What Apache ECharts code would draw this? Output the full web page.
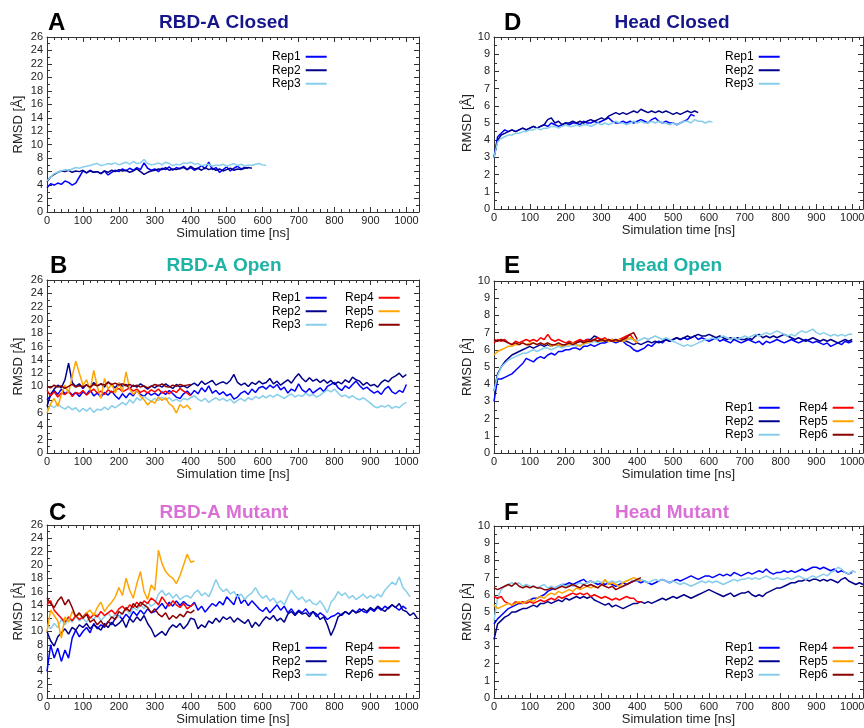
<!DOCTYPE html>
<html>
<head>
<meta charset="utf-8">
<title>RMSD</title>
<script src="https://cdn.jsdelivr.net/npm/echarts@6/dist/echarts.min.js"></script>
<style>
  html, body { margin: 0; padding: 0; background: #fff; }
  #wrap { position: relative; width: 864px; height: 728px; overflow: hidden; background: #fff; }
  .panel { position: absolute; width: 432px; height: 250px; }
</style>
</head>
<body>
<div id="wrap">
  <div class="panel" id="panel-a" style="left:0;top:0"></div>
  <div class="panel" id="panel-d" style="left:432px;top:0"></div>
  <div class="panel" id="panel-b" style="left:0;top:240px"></div>
  <div class="panel" id="panel-e" style="left:432px;top:240px"></div>
  <div class="panel" id="panel-c" style="left:0;top:480px;height:248px"></div>
  <div class="panel" id="panel-f" style="left:432px;top:480px;height:248px"></div>
</div>
<script>
/**
 * RMSD time series, six panels
 */

// sampling step of every series [ns]
const STEP_NS = 10;

const REP_NAMES = ['Rep1', 'Rep2', 'Rep3', 'Rep4', 'Rep5', 'Rep6'];
const REP_COLORS = ['#0000ff', '#00008b', '#87ceeb', '#ff0000', '#ffa500', '#8b0000'];
const FONT = 'Liberation Sans, Arial, Helvetica, sans-serif';

// A - RBD-A Closed
const rbdClosedRep1 = [3.6,4.2,4.0,4.3,4.1,4.6,4.4,4.0,4.3,5.2,6.1,5.8,6.2,5.9,6.0,5.7,6.1,5.5,5.9,6.2,6.0,6.4,6.1,6.5,6.2,6.6,6.3,7.3,6.5,6.2,6.4,6.0,6.5,6.3,6.7,6.2,6.6,6.4,6.8,6.3,6.6,6.2,6.5,6.9,6.4,7.4,6.3,6.6,5.9,6.3,6.7,6.1,6.5,6.8,6.4,6.6,6.5];
const rbdClosedRep2 = [4.5,5.2,5.6,5.9,6.1,6.0,6.2,5.9,6.1,6.0,6.2,5.8,6.1,5.9,6.0,5.7,6.1,5.9,6.2,6.0,6.3,6.1,6.2,5.9,6.1,6.4,6.0,5.6,5.9,6.1,6.2,6.4,6.3,6.6,6.2,6.4,6.3,6.5,6.6,6.3,6.8,6.4,6.5,6.2,6.6,6.3,6.5,6.2,6.4,6.1,6.3,6.5,6.2,6.4,6.3,6.5,6.6,6.5];
const rbdClosedRep3 = [4.6,5.2,5.7,5.9,6.1,6.3,6.2,6.4,6.6,6.5,6.7,6.8,6.9,7.1,7.2,6.9,7.0,7.2,7.1,7.3,7.0,7.2,7.4,7.1,7.5,7.2,7.3,7.8,7.2,7.0,7.1,7.3,7.0,7.4,7.2,6.9,7.1,7.0,7.3,7.2,7.4,7.1,7.2,6.9,7.0,7.1,6.8,7.0,6.9,7.1,6.8,7.0,7.2,6.9,7.1,6.8,7.0,6.9,7.1,7.2,7.0,6.9];

// D - Head Closed
const headClosedRep1 = [3.0,4.2,4.4,4.6,4.5,4.6,4.5,4.6,4.7,4.6,4.7,4.8,4.7,4.8,4.9,4.8,5.0,4.9,4.8,4.9,5.0,4.9,5.0,5.0,4.9,5.1,5.0,5.0,5.1,5.0,5.1,5.2,5.3,5.1,5.0,5.0,5.1,5.0,5.1,5.0,5.1,5.2,5.1,5.0,5.2,5.3,5.1,5.0,5.1,5.0,5.0,4.9,5.0,5.1,5.2,5.5,5.4];
const headClosedRep2 = [3.0,4.0,4.3,4.4,4.5,4.6,4.5,4.6,4.7,4.6,4.7,4.8,4.7,4.8,4.9,5.2,5.3,5.0,5.1,4.9,5.0,5.0,5.1,5.0,5.1,5.0,5.1,5.2,5.1,5.2,5.3,5.2,5.4,5.5,5.6,5.5,5.6,5.5,5.6,5.7,5.6,5.8,5.7,5.6,5.7,5.6,5.7,5.6,5.7,5.6,5.5,5.6,5.5,5.6,5.7,5.6,5.7,5.6];
const headClosedRep3 = [3.0,3.9,4.1,4.2,4.3,4.3,4.4,4.4,4.5,4.5,4.6,4.6,4.7,4.6,4.7,4.7,4.8,4.8,4.7,4.8,4.9,4.8,4.8,4.9,4.8,4.9,4.9,4.8,4.9,5.0,4.9,5.0,4.9,5.0,5.1,5.0,5.0,4.9,5.0,5.1,5.0,5.1,5.0,5.0,5.1,5.0,5.1,5.0,5.0,4.9,5.0,4.9,5.0,5.1,5.1,5.0,5.2,5.1,5.1,5.0,5.1,5.05];

// B - RBD-A Open
const rbdOpenRep1 = [
  8.0,8.6,9.4,8.8,9.6,8.9,9.3,8.7,9.1,8.5,9.2,
  8.8,9.5,8.6,9.0,8.4,9.1,8.7,9.3,8.6,8.1,
  8.9,8.3,9.0,8.6,9.4,8.8,8.5,9.1,8.7,9.0,
  8.6,9.2,8.8,9.4,8.9,8.4,8.2,8.9,9.3,8.7,
  9.4,8.9,9.8,9.2,10.1,9.0,9.4,8.8,9.2,8.6,
  8.9,8.1,8.4,9.0,9.3,8.8,9.6,9.1,9.8,10.0,
  9.6,10.2,9.8,10.3,9.5,9.9,9.0,9.6,9.3,10.4,
  9.5,9.1,9.7,9.0,9.4,9.8,9.2,10.0,10.3,10.6,
  9.8,9.4,10.1,9.7,10.3,10.8,10.1,9.6,9.9,9.4,
  9.0,9.3,8.8,9.6,10.0,9.2,8.9,9.4,9.1,10.3];
const rbdOpenRep2 = [
  7.0,8.8,9.6,10.2,9.8,11.0,13.5,10.6,10.0,10.4,9.7,
  10.3,9.8,10.6,10.1,10.4,9.9,10.7,10.2,9.8,10.5,
  10.0,10.3,9.7,10.2,9.9,10.4,10.0,9.6,10.1,9.8,
  10.2,9.9,10.4,10.0,9.7,10.3,9.9,10.1,9.8,10.2,
  10.5,10.1,10.8,10.3,10.6,10.9,10.2,10.5,10.7,10.4,
  10.9,11.8,10.6,10.2,10.5,10.0,10.6,10.3,10.8,10.4,
  10.6,11.2,10.4,10.8,10.2,10.6,11.0,10.5,11.3,11.9,
  11.2,10.7,11.3,10.8,11.1,10.6,11.0,10.5,10.9,10.3,
  10.7,10.4,11.0,10.6,11.4,11.0,10.8,10.2,10.6,10.1,
  10.3,9.9,10.6,11.0,10.7,11.3,11.6,12.0,11.4,11.8];
const rbdOpenRep3 = [
  6.4,7.2,6.8,7.4,6.9,6.6,7.0,6.5,6.8,6.2,6.7,
  6.3,6.8,6.1,6.6,6.4,6.9,6.5,7.1,6.8,7.2,
  7.6,7.2,8.0,7.5,8.3,7.9,8.5,8.1,7.8,8.2,
  7.9,8.4,8.0,8.3,7.8,8.1,7.7,8.2,8.0,8.3,
  8.6,8.1,7.8,8.2,7.6,8.0,8.3,7.9,8.2,7.8,
  8.1,7.5,7.9,8.2,7.8,8.3,8.0,8.5,8.2,8.6,
  8.3,8.7,8.4,8.8,8.5,8.2,8.6,8.9,8.4,8.7,
  8.5,9.0,8.6,8.8,8.4,8.7,9.1,9.5,9.2,9.6,
  9.0,8.5,8.7,8.3,8.6,8.2,8.0,8.3,7.9,7.5,
  7.0,6.8,7.1,6.9,7.2,6.7,7.0,6.8,7.3,7.6];
const rbdOpenRep4 = [9.4,8.6,9.2,8.4,9.0,8.8,9.3,8.5,9.1,8.9,9.4,8.7,9.2,9.6,9.0,9.3,8.8,9.5,9.1,9.4,9.7,9.2,9.5,9.8,9.3,9.6,9.1,9.4,9.0,9.5,9.2,9.6,9.0,9.3,8.9,9.4,9.1,9.7,9.3,9.0,8.6];
const rbdOpenRep5 = [6.0,7.4,8.2,7.0,8.8,10.2,9.0,11.5,13.8,12.0,10.2,11.0,9.4,12.4,10.0,8.2,11.2,9.6,10.4,9.0,10.5,9.2,12.2,9.6,8.8,9.4,8.5,8.0,7.2,7.8,7.5,8.4,7.9,8.3,7.4,7.0,6.0,7.3,6.8,7.2,6.5];
const rbdOpenRep6 = [10.0,9.8,10.2,9.9,10.1,9.7,10.0,10.3,9.9,10.1,10.0,10.2,9.9,10.3,10.1,10.4,10.2,10.6,10.3,10.5,10.2,10.4,10.1,10.3,10.0,10.2,9.9,10.1,9.8,10.0,10.3,10.1,10.4,10.0,9.9,10.2,10.0,10.3,10.1,10.2,10.3];

// E - Head Open
const headOpenRep1 = [
  3.0,4.3,4.3,4.4,4.5,4.6,4.8,5.0,5.2,5.5,5.4,
  5.3,5.5,5.6,5.5,5.7,5.8,5.7,5.9,5.9,6.0,
  6.0,6.1,6.1,6.0,6.2,6.2,6.3,6.2,6.3,6.4,
  6.4,6.5,6.5,6.4,6.5,6.5,6.3,6.2,6.0,5.9,
  6.0,6.1,6.3,6.2,6.4,6.5,6.4,6.6,6.5,6.6,
  6.7,6.6,6.7,6.6,6.7,6.8,6.6,6.7,6.6,6.5,
  6.6,6.7,6.5,6.6,6.5,6.4,6.6,6.5,6.4,6.5,
  6.6,6.5,6.4,6.5,6.3,6.5,6.4,6.5,6.6,6.5,
  6.4,6.5,6.6,6.5,6.4,6.5,6.6,6.5,6.4,6.5,
  6.4,6.3,6.4,6.2,6.3,6.4,6.3,6.5,6.4,6.5];
const headOpenRep2 = [
  3.6,4.6,5.0,5.3,5.5,5.7,5.8,5.9,6.0,6.1,6.2,
  6.1,6.2,6.3,6.2,6.3,6.2,6.3,6.3,6.2,6.3,
  6.4,6.3,6.4,6.5,6.5,6.6,6.6,6.8,6.7,6.5,
  6.6,6.5,6.6,6.5,6.6,6.6,6.5,6.4,6.3,6.4,
  6.3,6.4,6.5,6.4,6.5,6.4,6.5,6.6,6.5,6.6,
  6.7,6.6,6.7,6.8,6.7,6.8,6.9,6.8,6.8,6.9,
  6.8,6.7,6.8,6.7,6.6,6.7,6.6,6.7,6.6,6.6,
  6.7,6.6,6.8,6.9,6.7,6.8,6.7,6.8,6.7,6.8,
  6.9,6.8,6.7,6.6,6.7,6.6,6.5,6.6,6.7,6.6,
  6.5,6.6,6.5,6.6,6.5,6.4,6.5,6.6,6.5,6.6];
const headOpenRep3 = [
  3.6,4.5,5.0,5.2,5.4,5.5,5.6,5.7,5.8,5.8,5.9,
  6.0,5.9,6.0,6.1,6.1,6.0,6.1,6.2,6.1,6.2,
  6.2,6.3,6.2,6.3,6.3,6.4,6.4,6.5,6.4,6.5,
  6.5,6.6,6.5,6.6,6.5,6.6,6.7,6.6,6.6,6.5,
  6.6,6.7,6.6,6.7,6.8,6.7,6.6,6.7,6.6,6.5,
  6.4,6.3,6.2,6.3,6.2,6.3,6.4,6.5,6.6,6.6,
  6.7,6.6,6.7,6.8,6.7,6.6,6.7,6.6,6.7,6.8,
  6.7,6.8,6.9,6.8,6.9,7.0,6.9,7.0,7.1,7.0,
  6.9,6.8,6.9,6.8,7.0,7.1,7.0,7.1,7.2,7.0,
  6.9,7.0,6.9,6.8,6.9,6.8,6.9,6.8,6.9,6.9];
const headOpenRep4 = [6.4,6.6,6.5,6.6,6.4,6.3,6.5,6.4,6.5,6.6,6.5,6.6,6.5,6.7,6.6,6.9,6.6,6.5,6.6,6.5,6.4,6.5,6.4,6.5,6.6,6.5,6.6,6.5,6.6,6.7,6.6,6.7,6.5,6.6,6.5,6.6,6.7,6.8,6.9,6.6,6.4];
const headOpenRep5 = [5.7,5.9,6.0,6.1,6.2,6.2,6.3,6.3,6.4,6.3,6.4,6.4,6.3,6.4,6.3,6.4,6.2,6.3,6.3,6.2,6.3,6.3,6.4,6.3,6.2,6.4,6.4,6.5,6.6,6.5,6.5,6.6,6.5,6.6,6.5,6.6,6.5,6.6,6.7,6.6,6.4];
const headOpenRep6 = [6.6,6.5,6.6,6.5,6.4,6.3,6.4,6.3,6.4,6.3,6.3,6.4,6.3,6.4,6.3,6.4,6.3,6.3,6.4,6.3,6.3,6.4,6.3,6.4,6.5,6.4,6.5,6.5,6.6,6.5,6.6,6.5,6.6,6.5,6.6,6.5,6.6,6.7,6.9,7.0,6.6];

// C - RBD-A Mutant
const rbdMutantRep1 = [
  4.0,8.0,6.0,7.5,5.5,7.2,6.0,9.0,10.2,9.2,10.0,
  10.6,9.8,11.2,10.4,11.0,10.6,11.5,11.0,12.0,12.4,
  11.8,12.6,12.0,13.0,12.4,13.2,12.6,13.4,12.8,13.0,
  13.6,14.2,13.4,14.4,13.8,14.6,13.9,14.5,14.0,13.8,
  14.4,13.2,13.8,12.9,13.6,14.2,13.8,14.5,14.0,15.2,
  14.6,14.0,15.6,14.2,14.8,13.9,14.6,14.0,13.4,13.0,
  13.6,12.8,13.4,14.0,13.2,13.8,12.8,13.4,12.6,13.2,
  12.8,13.4,12.6,13.0,12.2,12.8,12.4,11.8,12.2,12.4,
  12.8,12.4,13.0,12.6,13.2,12.8,13.4,13.0,12.8,13.4,
  13.0,13.6,13.2,13.8,13.4,14.0,13.6,13.2,13.8,13.4];
const rbdMutantRep2 = [
  10.0,8.6,7.8,9.2,9.8,10.4,9.6,10.6,10.2,11.0,10.6,
  11.2,10.4,11.0,10.6,10.2,11.2,10.6,11.4,10.8,11.2,
  11.8,10.6,12.0,11.4,12.2,11.6,12.4,11.2,10.4,9.2,
  9.6,10.0,9.4,10.4,11.0,10.6,11.2,10.4,11.0,12.0,
  11.8,10.4,11.0,10.6,11.6,11.2,12.0,11.4,12.2,11.8,
  12.2,11.4,12.0,11.6,11.2,11.8,10.6,11.4,10.8,11.6,
  12.2,11.8,12.4,11.6,12.0,11.4,12.6,13.0,12.4,13.0,
  12.6,12.8,12.2,13.0,12.6,11.8,12.2,11.0,9.4,10.6,
  12.2,12.6,13.0,12.6,13.2,12.8,13.0,13.4,13.0,13.6,
  13.2,13.8,13.4,13.0,13.6,14.0,13.6,14.2,13.2,13.0,
  12.4,12.8,12.0];
const rbdMutantRep3 = [
  11.0,10.4,11.2,10.6,11.8,11.0,12.0,11.4,12.2,11.6,12.0,
  11.4,12.2,11.8,12.6,11.6,12.2,12.8,12.0,12.6,12.2,
  12.8,13.4,12.6,13.6,13.2,14.0,13.4,14.4,13.8,14.2,
  15.6,16.2,15.4,15.8,15.0,15.6,14.8,15.2,15.4,15.0,
  15.8,16.2,15.4,15.8,15.2,16.4,17.8,16.6,16.0,16.4,
  15.6,16.0,15.2,15.6,14.8,15.4,15.8,16.6,15.6,15.0,
  15.4,14.6,15.0,14.2,14.6,14.0,15.2,16.2,15.4,14.8,
  15.2,14.4,14.8,14.2,14.0,14.6,13.8,12.8,14.4,15.0,
  16.0,15.4,15.8,15.0,15.4,14.8,15.2,15.6,15.0,15.4,
  15.0,15.6,15.2,16.2,16.8,17.4,17.0,18.2,16.6,16.0,
  15.2];
const rbdMutantRep4 = [14.0,14.6,13.2,12.6,12.0,11.4,12.2,11.6,12.4,11.8,12.2,12.8,12.0,12.6,12.2,13.0,12.4,12.8,13.2,12.6,13.4,13.8,13.2,14.0,13.6,14.4,13.8,14.6,14.2,15.0,14.6,14.0,15.2,14.4,13.8,14.6,14.0,13.6,14.2,13.4,13.8,14.2];
const rbdMutantRep5 = [10.0,13.2,12.4,11.6,9.0,12.2,11.4,13.0,12.2,12.6,12.0,12.8,13.2,12.4,13.6,14.4,13.0,13.8,14.4,15.2,16.6,15.4,18.0,16.2,15.0,17.2,19.0,16.0,14.8,17.0,16.2,22.2,20.2,19.0,18.4,18.0,17.2,18.4,20.0,21.6,20.4,20.6];
const rbdMutantRep6 = [15.0,14.2,13.6,14.6,15.2,14.0,14.8,13.6,12.2,12.8,12.0,12.6,11.4,11.8,11.0,11.6,10.8,11.4,12.2,11.8,13.0,12.6,13.6,13.0,14.2,13.6,14.4,14.0,13.6,12.8,13.4,12.6,12.2,12.8,11.8,12.4,12.0,12.6,12.2,13.0,12.8,13.2];

// F - Head Mutant
const headMutantRep1 = [
  4.3,4.6,4.8,5.0,5.2,5.3,5.4,5.5,5.5,5.6,5.7,
  5.8,5.8,5.9,6.0,6.2,6.3,6.4,6.5,6.6,6.6,
  6.7,6.6,6.7,6.8,6.9,6.7,6.8,6.7,6.6,6.7,
  6.6,6.7,6.6,6.5,6.6,6.7,6.6,6.7,6.8,6.8,
  6.7,6.8,6.7,6.6,6.7,6.8,6.9,6.8,6.7,6.8,
  6.9,6.8,6.9,7.0,7.1,7.0,6.9,7.0,7.1,7.1,
  7.0,7.1,7.2,7.1,7.2,7.1,7.3,7.2,7.1,7.2,
  7.3,7.2,7.3,7.4,7.3,7.5,7.3,7.2,7.3,7.3,
  7.4,7.3,7.4,7.3,7.4,7.5,7.4,7.5,7.6,7.6,
  7.5,7.6,7.5,7.4,7.5,7.3,7.4,7.3,7.2,7.3];
const headMutantRep2 = [
  3.4,4.3,4.5,4.7,4.8,5.0,5.0,5.1,5.2,5.2,5.3,
  5.4,5.3,5.5,5.5,5.6,5.5,5.6,5.7,5.6,5.8,
  5.7,5.8,5.9,5.8,5.9,5.8,5.9,5.7,5.6,5.5,
  5.4,5.5,5.3,5.4,5.3,5.2,5.3,5.4,5.5,5.5,
  5.6,5.5,5.6,5.5,5.6,5.7,5.8,5.7,5.8,5.9,
  5.8,5.9,6.0,5.9,5.8,5.9,6.0,6.1,6.2,6.3,
  6.2,6.1,6.0,5.9,6.0,6.1,5.9,6.0,6.1,6.1,
  6.2,6.0,5.9,6.0,5.9,6.1,6.2,6.3,6.4,6.4,
  6.5,6.6,6.7,6.7,6.8,6.8,6.9,6.8,6.9,6.9,
  6.8,6.9,6.8,6.9,6.8,6.7,6.9,7.0,6.8,6.7,
  6.6,6.7,6.6];
const headMutantRep3 = [
  4.5,5.8,6.3,6.5,6.6,6.7,6.6,6.7,6.5,6.6,6.5,
  6.5,6.4,6.5,6.6,6.4,6.5,6.4,6.5,6.6,6.5,
  6.6,6.5,6.6,6.7,6.6,6.7,6.8,6.7,6.8,6.7,
  6.8,6.7,6.8,6.7,6.8,6.7,6.8,6.9,6.8,6.8,
  6.9,6.8,6.7,6.8,6.9,6.8,6.9,6.8,6.7,6.8,
  6.7,6.6,6.7,6.6,6.5,6.6,6.7,6.8,6.7,6.8,
  6.7,6.8,6.7,6.6,6.7,6.8,6.9,6.8,6.9,6.9,
  7.0,6.9,7.0,6.9,7.0,7.1,7.0,6.9,7.0,6.9,
  6.9,7.0,6.9,7.0,7.1,7.0,6.9,7.0,7.1,7.0,
  7.1,7.2,7.1,7.3,7.4,7.6,7.5,7.3,7.2,7.4,
  7.3];
const headMutantRep4 = [5.9,5.8,5.9,5.6,5.5,5.4,5.6,5.5,5.6,5.5,5.6,5.5,5.6,5.7,5.6,5.7,5.8,5.7,5.9,5.8,5.9,6.0,6.1,6.0,6.1,6.0,6.1,5.9,6.0,5.9,5.8,5.9,5.8,5.7,5.8,5.7,5.8,5.9,5.8,5.8,5.6,5.6];
const headMutantRep5 = [5.4,5.2,5.3,5.4,5.5,5.4,5.5,5.6,5.5,5.6,5.7,5.6,5.8,5.9,5.8,6.0,6.1,6.0,6.2,6.1,6.2,6.3,6.2,6.4,6.3,6.4,6.5,6.4,6.5,6.4,6.6,6.9,6.6,6.7,6.6,6.5,6.7,6.8,6.9,7.0,6.9,6.8];
const headMutantRep6 = [6.4,6.3,6.4,6.5,6.6,6.5,6.7,6.5,6.4,6.5,6.4,6.5,6.4,6.4,6.3,6.3,6.4,6.3,6.4,6.5,6.4,6.5,6.6,6.5,6.4,6.6,6.5,6.6,6.5,6.4,6.6,6.5,6.4,6.5,6.3,6.4,6.5,6.6,6.7,6.8,6.9,7.0];

// panel layout (px, relative to each panel div)
const PANELS = [
    { id: 'panel-a', letter: 'A', title: 'RBD-A Closed', titleColor: '#15158c',
      letterX: 48, titleX: 224, textY: 23, grid: { left: 47, top: 37, width: 372, height: 175 },
      yMax: 26, yStep: 2, xMax: 1035, nameGap: 22,
      legendCols: [{ left: 272, top: 50, names: ['Rep1', 'Rep2', 'Rep3'] }],
      series: [rbdClosedRep1, rbdClosedRep2, rbdClosedRep3] },
    { id: 'panel-d', letter: 'D', title: 'Head Closed', titleColor: '#15158c',
      letterX: 72, titleX: 240, textY: 23, grid: { left: 62, top: 37, width: 369, height: 172 },
      yMax: 10, yStep: 1, xMax: 1030, nameGap: 20,
      legendCols: [{ left: 293, top: 50, names: ['Rep1', 'Rep2', 'Rep3'] }],
      series: [headClosedRep1, headClosedRep2, headClosedRep3] },
    { id: 'panel-b', letter: 'B', title: 'RBD-A Open', titleColor: '#1fb3a6',
      letterX: 50, titleX: 224, textY: 26, grid: { left: 47, top: 40, width: 372, height: 173 },
      yMax: 26, yStep: 2, xMax: 1035, nameGap: 22,
      legendCols: [{ left: 272, top: 51, names: ['Rep1', 'Rep2', 'Rep3'] },
                   { left: 345, top: 51, names: ['Rep4', 'Rep5', 'Rep6'] }],
      series: [rbdOpenRep1, rbdOpenRep2, rbdOpenRep3, rbdOpenRep4, rbdOpenRep5, rbdOpenRep6] },
    { id: 'panel-e', letter: 'E', title: 'Head Open', titleColor: '#1fb3a6',
      letterX: 72, titleX: 240, textY: 26, grid: { left: 62, top: 41, width: 369, height: 172 },
      yMax: 10, yStep: 1, xMax: 1030, nameGap: 20,
      legendCols: [{ left: 293, top: 161, names: ['Rep1', 'Rep2', 'Rep3'] },
                   { left: 367, top: 161, names: ['Rep4', 'Rep5', 'Rep6'] }],
      series: [headOpenRep1, headOpenRep2, headOpenRep3, headOpenRep4, headOpenRep5, headOpenRep6] },
    { id: 'panel-c', letter: 'C', title: 'RBD-A Mutant', titleColor: '#da6fd6',
      letterX: 49, titleX: 224, textY: 33, grid: { left: 47, top: 45, width: 372, height: 173 },
      yMax: 26, yStep: 2, xMax: 1035, nameGap: 22,
      legendCols: [{ left: 272, top: 161, names: ['Rep1', 'Rep2', 'Rep3'] },
                   { left: 345, top: 161, names: ['Rep4', 'Rep5', 'Rep6'] }],
      series: [rbdMutantRep1, rbdMutantRep2, rbdMutantRep3, rbdMutantRep4, rbdMutantRep5, rbdMutantRep6] },
    { id: 'panel-f', letter: 'F', title: 'Head Mutant', titleColor: '#da6fd6',
      letterX: 72, titleX: 240, textY: 33, grid: { left: 62, top: 46, width: 369, height: 172 },
      yMax: 10, yStep: 1, xMax: 1030, nameGap: 20,
      legendCols: [{ left: 293, top: 161, names: ['Rep1', 'Rep2', 'Rep3'] },
                   { left: 367, top: 161, names: ['Rep4', 'Rep5', 'Rep6'] }],
      series: [headMutantRep1, headMutantRep2, headMutantRep3, headMutantRep4, headMutantRep5, headMutantRep6] }
];

/**
 * [time, value] pairs from a list of values
 */
function toPoints(values) {
    return values.map((v, i) => [i * STEP_NS, v]);
}

/**
 * one side of the frame: axis line with inside ticks, labels only if asked
 */
function boxAxis(position, max, interval, minorSplit, showLabel) {
    return {
        type: 'value',
        position: position,
        min: 0,
        max: max,
        interval: interval,
        splitLine: { show: false },
        axisLine: { show: true, onZero: false, lineStyle: { color: '#333', width: 1 } },
        axisTick: { show: true, inside: true, length: 5, lineStyle: { color: '#333' } },
        minorTick: { show: true, splitNumber: minorSplit, length: 3, lineStyle: { color: '#333' } },
        axisLabel: { show: showLabel, fontFamily: FONT, fontSize: 11, color: '#222', margin: 4 }
    };
}

function buildOption(p) {
    const xBottom = boxAxis('bottom', p.xMax, 100, 5, true);
    xBottom.axisLabel.formatter = v => (v % 100 === 0 ? String(v) : '');
    xBottom.axisLabel.margin = 3;
    xBottom.name = 'Simulation time [ns]';
    xBottom.nameLocation = 'middle';
    xBottom.nameGap = 15;
    xBottom.nameMoveOverlap = false;
    xBottom.nameTextStyle = { fontFamily: FONT, fontSize: 13, color: '#222' };
    const xTop = boxAxis('top', p.xMax, 100, 5, false);

    const yLeft = boxAxis('left', p.yMax, p.yStep, 2, true);
    yLeft.name = 'RMSD [Å]';
    yLeft.nameLocation = 'middle';
    yLeft.nameGap = p.nameGap;
    yLeft.nameMoveOverlap = false;
    yLeft.nameTextStyle = { fontFamily: FONT, fontSize: 13, color: '#222' };
    const yRight = boxAxis('right', p.yMax, p.yStep, 2, false);

    // text first, short flat bar after it
    const legends = p.legendCols.map(col => ({
        orient: 'vertical',
        align: 'right',
        left: col.left,
        top: col.top,
        padding: 0,
        itemGap: 0,
        itemWidth: 21,
        itemHeight: 2,
        icon: 'rect',
        selectedMode: false,
        data: col.names,
        textStyle: { fontFamily: FONT, fontSize: 12, color: '#000', lineHeight: 13.5 }
    }));

    const series = p.series.map((values, i) => ({
        type: 'line',
        name: REP_NAMES[i],
        data: toPoints(values),
        xAxisIndex: 0,
        yAxisIndex: 0,
        symbol: 'none',
        showSymbol: false,
        color: REP_COLORS[i],
        itemStyle: { color: REP_COLORS[i] },
        lineStyle: { width: 1.5, color: REP_COLORS[i] },
        emphasis: { disabled: true },
        z: 2 + i
    }));

    return {
        animation: false,
        // transparent, the panel divs overlap a little at the bottom
        backgroundColor: 'transparent',
        // keep the plot box exactly where it is set, names may sit near the edge
        grid: Object.assign({ containLabel: false, outerBoundsMode: 'none' }, p.grid),
        xAxis: [xBottom, xTop],
        yAxis: [yLeft, yRight],
        legend: legends,
        graphic: [
            { type: 'text', x: p.letterX, y: p.textY,
              style: { text: p.letter, fontFamily: FONT, fontSize: 24, fontWeight: 'bold', fill: '#000', verticalAlign: 'middle' } },
            { type: 'text', x: p.titleX, y: p.textY,
              style: { text: p.title, fontFamily: FONT, fontSize: 19, fontWeight: 'bold', fill: p.titleColor, align: 'center', verticalAlign: 'middle' } }
        ],
        series: series
    };
}

/**
 * init all panels
 */
document.addEventListener('DOMContentLoaded', function() {
    PANELS.forEach(p => {
        const chart = echarts.init(document.getElementById(p.id), null, { renderer: 'canvas' });
        chart.setOption(buildOption(p));
    });
});
</script>
</body>
</html>
